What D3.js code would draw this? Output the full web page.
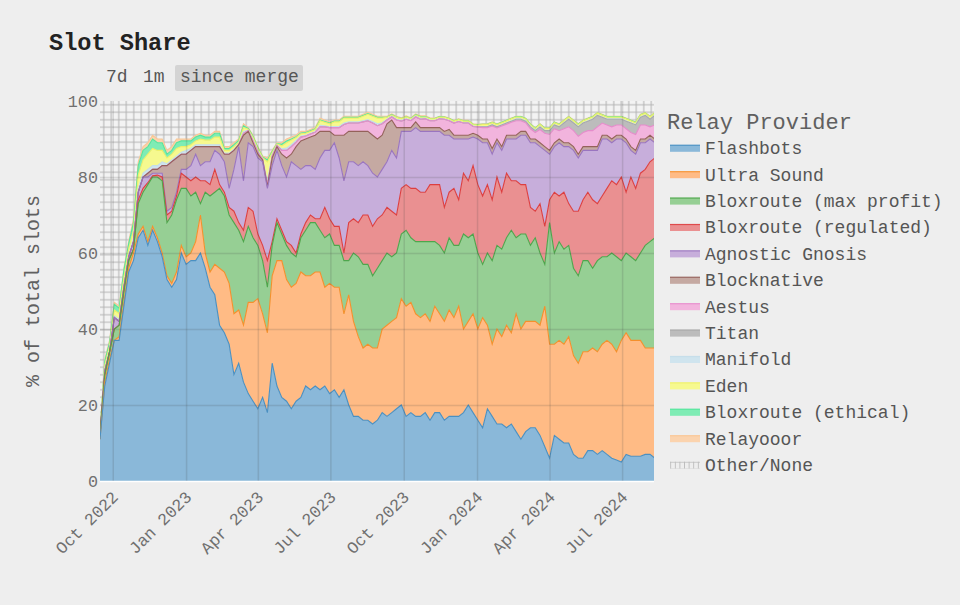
<!DOCTYPE html>
<html><head><meta charset="utf-8">
<script src="https://d3js.org/d3.v7.min.js"></script>
<style>html,body{margin:0;padding:0;background:#eee}svg{display:block}text{font-family:"Liberation Mono","Courier New",monospace}</style>
</head><body><svg id="c" width="960" height="605"></svg>
<script>
const titleText = "Slot Share";
const rangeButtons = ["7d","1m","since merge"];
const legendTitle = "Relay Provider";
const yAxisLabel = "% of total slots";
const yTicks = [0,20,40,60,80,100];
const xTickDates = ["2022-10-01","2023-01-01","2023-04-01","2023-07-01","2023-10-01","2024-01-01","2024-04-01","2024-07-01"];
const xTickLabels = ["Oct 2022","Jan 2023","Apr 2023","Jul 2023","Oct 2023","Jan 2024","Apr 2024","Jul 2024"];
const firstDate = "2022-09-15", lastDate = "2024-08-10", stepDays = 6;

const flashbots = [11,25,31,37,37,46,55,58,64,66, 62,66,63,59,53,51,53,60,57,58, 58,60,56,51,49,41,39,36,28,31, 26,23,21,19,22,18,31,25,22,21, 19,21,22,25,24,25,24,25,23,24, 22,24,20,17,17,16,16,15,16,18, 17,18,19,20,17,18,17,17,18,16, 18,18,16,17,17,17,18,20,18,16, 14,19,17,15,15,14,15,13,11,13, 14,14,12,9,6,12,11,10,10,7, 6,6,8,8,7,8,7,6,5.5,5, 7,6.5,6.5,6.5,7,7,6];
const ultraSound = [0,1,1,0,1,1,1,2,1,1, 1,1,1,1,1,1,2,2,2,2, 5,10,4,4,8,15,16,16,16,14, 15,24,26,29,22,21,23,33,36,32, 32,31,33,29,30,30,31,26,29,27, 29,20,29,25,21,19,20,20,19,22, 24,24,24,28,29,29,27,26,26,26, 28,26,26,28,26,29,22,22,26,24, 29,22,19,25,23,27,24,31,29,29, 28,28,29,37,30,24,26,26,28,26, 25,28,26,27,27,28,30,30,28.5,32, 32,30.5,30.5,30.5,28,28,29];
const bloxrouteMax = [1,2,2,3,3,3,2,1,8,9, 15,13,16,19,14,18,19,15,18,15, 13,3,16,20,19,21,20,18,24,21, 22,20,17,14,14,12,8,10,7,9, 9,7,9,12,14,13,11,13,13,11, 11,14,9,18,21,22,21,19,21,18, 19,17,17,17,20,17,19,20,19,21, 17,18,18,19,19,16,25,22,21,20, 14,19,22,22,23,23,27,20,25,23, 20,22,19,11,32,24,26,25,24,23, 23,24,24,21,24,23,22,24,25,21, 21,22,21,23,27,28,29];
const bloxrouteReg = [0,0,0,0,0,0,0,0,1,1, .5,.3,.5,1,2,1,1,4,3,4, 4,6,3,3,6,1,1,2,3,2, 3,5,7,3,4,7,1,1,1,1, 2,1,1,2,2,1,3,8,4,5, 5,2,10,9,9,13,13,13,13,12, 12,12,10,12,12,13,14,13,13,15, 15,16,12,12,15,12,16,15,18,18, 18,18,16,18,15,17,13,15,13,13, 10,7,13,10,6,16,12,15,11,15, 17,16,18,18,15,16,18,19,19,22, 16,21,19,21,20,21,21];
const agnosticGnosis = [0,1,0,3,1,1,1,2,2,3, 1.5,.7,.5,1,1,1,1,1,2,4, 6,4,5,6,5,8,8,5,11,20, 13,17,17,20,22,19,20,18,17,17, 22,23,17,15,13,13,16,15,18,22, 18,19,16,15,15,14,13,14,11,12, 12,16,15,15,14,15,16,16,16,14, 14,14,19,15,13,16,9,11,7.5,12, 14,11,12,9,11,9,11,11,13,13, 17,18,15,20,12,12,14,12,15,16, 14,13,11,13,14,15,13,10,12,10, 13,7,9,8,7,6,4];
const blocknative = [0,0,0,0,0,0,0,0,0,0, 1,1,1,2,12,12,9,4,4,4, 2,5,4,4,1,2,2,9,5,.5, 12,3,1,1,.5,.5,2,1,3,5, 2,5,7.5,7,7.5,9,7,5,5,2, 6,12,8,8,9,8,9,10,10,9, 10,8,8,1,1,1,1.5,1,1,1, 1,1,1,1.5,1,1,1,1,1,1, 1,1,1.5,1,1,1,1,1,1,1, 1,1,1,1,1,1,1,1,1,1, 1,1,1,1,1,1,1,1,1,1, 1,1,1,1,1,1,1];
const aestus = [0,0,0,0,0,0,0,0,0,0, 0,0,0,0,0,0,0,0,0,0, 0,0,0,0,0,0,0,0,0,0, .5,.2,.5,.5,.2,.5,.5,.3,1,2, 2,1.2,1,.8,.8,.8,1.2,1.2,1,2, 2,2.8,2.2,2.2,2.2,2.5,2.8,3.2,3.5,3, 1,.8,2,1.7,2.2,1.8,1.3,2.2,2.3,1.8, 1.8,2.3,3.2,2.3,3.2,3.6,3.2,3.2,1.8,2.2, 3,3,5.9,2.9,5.4,2.9,3.4,3.8,2.8,2.3, 2.7,1.7,3.5,3.5,4.2,3.7,2.2,3.7,4.2,4.2, 4.7,3.7,4.2,4.2,5.2,3.2,2.7,3.2,2.7,2.7, 2.7,3.7,4.2,3.7,3.7,2.2,3.7];
const titan = [0,0,0,0,0,0,0,0,0,0, 0,0,0,0,0,0,0,0,0,0, 0,0,0,0,0,0,0,0,0,0, 0,0,0,0,0,0,0,0,0,0, 0,0,0,0,0,0,0,0,0,0, 0,0,0,0,0,0,0,0,0,0, 0,0,0,0,0,0,0,0,0,0, 0,0,0,0,0,0,0,0,0,0, .2,.2,.3,.3,.3,.3,.3,.4,.4,.4, .5,.5,.7,.7,1,1,1,1.5,2,2, 2.5,2.5,2.5,3,3,1.5,1.5,2,1.5,1.5, 2,2.5,2.5,2,2.5,2,2.5];
const manifold = [0,.5,.5,.5,.5,.5,.5,1,1,1, 1,1,1,1,.5,.5,.5,.5,1,.5, .5,.5,.5,.5,.5,.5,.3,.3,.3,.2, .5,.1,.3,.3,.1,1,.3,.1,.4,.6, .5,.4,.3,.2,.2,.2,.4,.3,.2,.3, .3,.4,.3,.3,.3,.3,.3,.4,.5,.3, .2,.2,.2,.2,.2,.2,.2,.2,.2,.2, .1,.1,.1,.1,.1,.1,.1,.1,.1,.1, .1,.1,.1,.1,.1,.1,.1,.1,.1,.1, .1,.1,.1,.1,.1,.1,.1,.1,.1,.1, .1,.1,.1,.1,.1,.1,.1,.1,.1,.1, .1,.1,.1,.1,.1,.1,.1];
const eden = [.5,1,1,1.5,1.5,2,1.5,2,3.5,3.5, 4,4.5,4,3,1.5,1.5,2,1.5,1,1, 1,1.5,1.2,1.2,2,2,.7,.7,.7,.5, 1,.3,.6,.6,.3,5,.6,.3,.8,1.4, 1.2,.8,.6,.5,.5,.5,1.2,.9,.8,1.2, 1.2,1.3,1,1,1,1.2,1.4,1.4,1.5,1.2, .5,.3,.5,.4,.4,.3,.3,.4,.3,.3, .4,.4,.4,.4,.4,.4,.4,.4,.4,.4, .5,.5,.5,.5,.5,.5,.5,.5,.5,.5, .5,.5,.5,.5,.5,.5,.5,.5,.5,.5, .5,.5,.5,.5,.5,.5,.5,.5,.5,.5, .5,.5,.5,.5,.5,.5,.5];
const bloxrouteEthical = [.5,1,1,1.5,1.5,2,1.5,2,2.5,2.5, 2,2.5,2,2,1,1,1.5,1.5,1.5,1, 1,1,.8,.8,1,1,.5,.5,.5,.4, .5,.2,.3,.3,.2,.5,.3,.1,.4,.5, .3,.2,.2,.2,.2,.2,.2,.2,.2,.2, .2,.2,.2,.2,.2,.2,.2,.2,.2,.2, .1,.1,.1,.1,.1,.1,.1,.1,.1,.1, .1,.1,.1,.1,.1,.1,.1,.1,.1,.1, .1,.1,.1,.1,.1,.1,.1,.1,.1,.1, .1,.1,.1,.1,.1,.1,.1,.1,.1,.1, .1,.1,.1,.1,.1,.1,.1,.1,.1,.1, .1,.1,.1,.1,.1,.1,.1];
const relayooor = [0,.5,.5,.5,.5,.5,.5,1,1,1, 1,1,1,1,1,1,1,.5,.5,.5, .5,.5,.5,.5,.5,.5,.5,.5,.5,.4, .5,.2,.3,.3,.2,.5,.3,.2,.4,.5, .5,.4,.4,.3,.3,.3,.5,.4,.3,.3, .3,.3,.3,.3,.3,.3,.3,.3,.3,.3, .2,.2,.2,.2,.2,.2,.2,.2,.2,.2, .1,.1,.1,.1,.1,.1,.1,.1,.1,.1, .1,.1,.1,.1,.1,.1,.1,.1,.1,.1, .1,.1,.1,.1,.1,.1,.1,.1,.1,.1, .1,.1,.1,.1,.1,.1,.1,.1,.1,.1, .1,.1,.1,.1,.1,.1,.1];

const seriesNames = ["Flashbots","Ultra Sound","Bloxroute (max profit)","Bloxroute (regulated)","Agnostic Gnosis","Blocknative","Aestus","Titan","Manifold","Eden","Bloxroute (ethical)","Relayooor"];
const seriesValues = [flashbots,ultraSound,bloxrouteMax,bloxrouteReg,agnosticGnosis,blocknative,aestus,titan,manifold,eden,bloxrouteEthical,relayooor];
const otherName = "Other/None";
const fillColors = ["#8ab8d9","#ffbb85","#96cf94","#ea9091","#c7aedb","#c5a9a2","#f2b4dd","#bcbcbc","#cfe4ee","#f6f98f","#7fecb5","#fbd3ae"];
const lineColors = ["#4a90c2","#f5902c","#4ea64c","#dd3f40","#9a75c0","#94625a","#e58ccb","#a8a8a8","#c4dde9","#eef06a","#55e59c","#f8c795"];

const svg = d3.select("#c");
const M = {l:100,r:654,t:101,b:481};
const parse = d3.utcParse("%Y-%m-%d");
const start = parse(firstDate);
const dates = seriesValues[0].map((_,i)=>d3.utcDay.offset(start,i*stepDays));
const rows = dates.map((d,i)=>{
  const r={date:d}; let s=0;
  seriesNames.forEach((n,k)=>{const v=seriesValues[k][i]||0;r[n]=v;s+=v;});
  r[otherName]=Math.max(0,100-s); return r;
});
const keys = seriesNames.concat([otherName]);
const stacked = d3.stack().keys(keys)(rows);
const x = d3.scaleUtc().domain([start,parse(lastDate)]).range([M.l,M.r]);
const y = d3.scaleLinear().domain([0,100]).range([M.b,M.t]);

const defs = svg.append("defs");
defs.append("clipPath").attr("id","clip").append("rect").attr("x",M.l).attr("y",M.t-1).attr("width",M.r-M.l).attr("height",M.b-M.t+1);
const p = defs.append("pattern").attr("id","plus").attr("patternUnits","userSpaceOnUse").attr("width",7.5).attr("height",7.5).attr("x",M.l).attr("y",M.t);
p.append("rect").attr("width",7.5).attr("height",7.5).attr("fill","#f3f3f3");
p.append("path").attr("d","M3.75 0V7.5M0 3.75H7.5").attr("stroke","#b2b2b2").attr("stroke-width",1).attr("fill","none");
const p2 = defs.append("pattern").attr("id","plusLeg").attr("patternUnits","userSpaceOnUse").attr("width",4.6).attr("height",7).attr("x",670).attr("y",462.5);
p2.append("path").attr("d","M2.3 0V7M0 3.5H4.6").attr("stroke","#bbb").attr("stroke-width",.9).attr("fill","none");

const g = svg.append("g").attr("clip-path","url(#clip)");
const area = d3.area().x(d=>x(d.data.date)).y0(d=>y(d[0])).y1(d=>y(d[1]));
const line = d3.line().x(d=>x(d.data.date)).y(d=>y(d[1]));
g.selectAll("path.a").data(stacked).join("path").attr("class","a")
  .attr("d",area).attr("fill",(d,i)=>i<12?fillColors[i]:"url(#plus)");
g.selectAll("path.l").data(stacked.slice(0,12).reverse()).join("path").attr("class","l")
  .attr("d",line).attr("fill","none").attr("stroke",(d)=>lineColors[d.index]).attr("stroke-width",1.1);

// axes and grid
const xAxis = d3.axisBottom(x).tickValues(xTickDates.map(parse)).tickFormat((d,i)=>xTickLabels[i]).tickSize(-(M.b-M.t)).tickPadding(6);
const yAxis = d3.axisLeft(y).tickValues(yTicks).tickSize(-(M.r-M.l)).tickPadding(2);
const gx = svg.append("g").attr("transform",`translate(0,${M.b})`).call(xAxis);
const gy = svg.append("g").attr("transform",`translate(${M.l},0)`).call(yAxis);
[gx,gy].forEach(a=>{a.select(".domain").remove();
  a.selectAll("line").attr("stroke","#444").attr("stroke-opacity",.16).attr("stroke-width",1.5);
  a.selectAll("text").attr("fill","#707070").attr("font-size",16.8);});
gy.selectAll(".tick").filter(d=>d===0||d===100).select("line").attr("stroke-opacity",0);
gx.selectAll("text").attr("font-size",16.8).attr("text-anchor","end").attr("dy",0)
  .attr("transform","translate(6,17) rotate(-45)").attr("x",0).attr("y",0);
svg.append("line").attr("x1",M.l).attr("x2",M.r).attr("y1",M.b+.5).attr("y2",M.b+.5).attr("stroke","#fff").attr("stroke-width",1.5);

svg.append("text").attr("transform",`translate(39,291) rotate(-90)`).attr("text-anchor","middle").attr("font-size",20).attr("fill","#606060").text(yAxisLabel);
svg.append("text").attr("x",49).attr("y",50).attr("font-size",23.6).attr("font-weight","bold").attr("fill","#222").text(titleText);

// range buttons
svg.append("rect").attr("x",175).attr("y",65).attr("width",128).attr("height",26).attr("rx",2).attr("fill","#d4d4d4");
const btnX = [106,143,180];
svg.selectAll("text.b").data(rangeButtons).join("text").attr("class","b").attr("x",(d,i)=>btnX[i]).attr("y",82).attr("font-size",18).attr("fill","#555").text(d=>d);

// legend
svg.append("text").attr("x",667).attr("y",129).attr("font-size",22).attr("fill","#606060").text(legendTitle);
const leg = svg.selectAll("g.leg").data(keys).join("g").attr("class","leg").attr("transform",(d,i)=>`translate(670,${148.3+i*26.4})`);
leg.append("rect").attr("x",0).attr("y",-3.5).attr("width",30).attr("height",7).attr("fill",(d,i)=>i<12?fillColors[i]:"url(#plusLeg)");
leg.filter((d,i)=>i<12).append("line").attr("x1",0).attr("x2",30).attr("y1",-3).attr("y2",-3).attr("stroke",(d,i)=>lineColors[i]).attr("stroke-width",1.2).attr("stroke-opacity",.85);
leg.append("text").attr("x",35).attr("y",5.8).attr("font-size",18).attr("fill","#555").text(d=>d);
</script></body></html>
